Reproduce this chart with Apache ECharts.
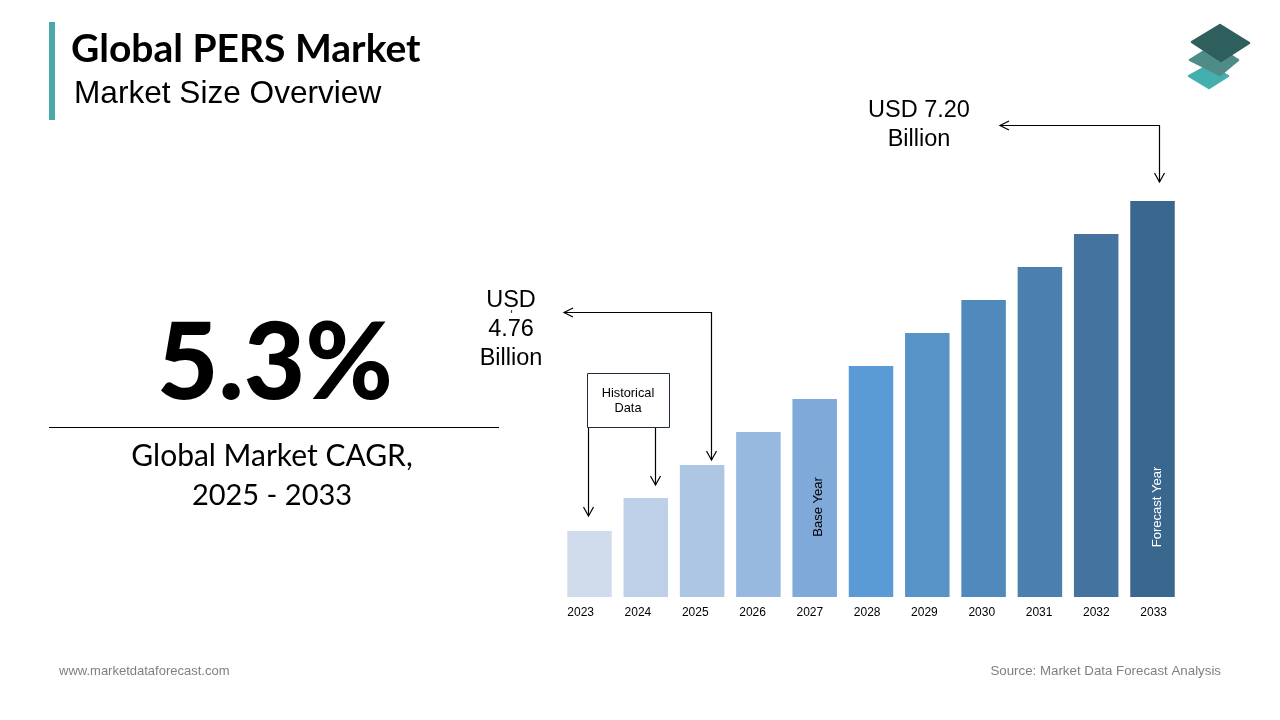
<!DOCTYPE html>
<html lang="en">
<head>
    <meta charset="UTF-8">
    <title>Global PERS Market</title>
    <style>
        html, body { margin: 0; padding: 0; background: #fff; }
    </style>
</head>
<body>
<div id="chart" style="width: 1280px;height: 720px"></div>
<script src="https://cdn.jsdelivr.net/npm/echarts@6/dist/echarts.min.js"></script>
<script>
    const years = ['2023', '2024', '2025', '2026', '2027', '2028', '2029', '2030', '2031', '2032', '2033']
    // bars are schematic in the picture (no value axis), so these are relative heights
    const relativeSize = [1, 1.5, 2, 2.5, 3, 3.5, 4, 4.5, 5, 5.5, 6]
    const barColors = ['#d0dcec', '#bdd0e8', '#adc6e3', '#98b9df', '#7fa9d8', '#5b9bd5', '#5893c8', '#5089bc', '#4b7fae', '#44739f', '#3a678e']

    const sans = '"Liberation Sans"'
    const calibriLike = 'Lato'

    function txt(x, y, text, size, opts) {
        return {
            type: 'text',
            x: x,
            y: y,
            z: 10,
            rotation: (opts && opts.rotation) || 0,
            style: {
                text: text,
                fontFamily: (opts && opts.font) || sans,
                fontSize: size,
                fontWeight: (opts && opts.weight) || 'normal',
                fill: (opts && opts.color) || '#000',
                align: (opts && opts.align) || 'center',
                verticalAlign: 'middle'
            }
        }
    }

    function line(points, color) {
        return {
            type: 'polyline',
            z: 10,
            shape: {points: points},
            style: {stroke: color || '#000', lineWidth: 1.2, fill: null}
        }
    }

    function diamond(points, color) {
        return {
            type: 'polygon',
            shape: {points: points},
            style: {fill: color, stroke: color, lineWidth: 2.5, lineJoin: 'round'}
        }
    }

    const dom = document.getElementById('chart')
    const chart = echarts.init(dom)
    chart.setOption({
        animation: false,
        backgroundColor: '#fff',
        grid: [
            {left: 561.35, top: 201, width: 619.3, height: 396},
            // tick labels in the picture sit on a slightly wider spacing than the bars
            {left: 552, top: 597, width: 630.3, height: 1}
        ],
        xAxis: [
            {
                type: 'category',
                gridIndex: 0,
                data: years,
                axisLine: {show: false},
                axisTick: {show: false},
                axisLabel: {show: false}
            },
            {
                type: 'category',
                gridIndex: 1,
                data: years,
                axisLine: {show: false},
                axisTick: {show: false},
                axisLabel: {
                    interval: 0,
                    margin: 9,
                    color: '#000',
                    fontFamily: sans,
                    fontSize: 12
                }
            }
        ],
        yAxis: [
            {type: 'value', gridIndex: 0, min: 0, max: 6, show: false},
            {type: 'value', gridIndex: 1, show: false}
        ],
        series: [
            {
                type: 'bar',
                xAxisIndex: 0,
                yAxisIndex: 0,
                barWidth: 44.5,
                data: relativeSize.map((v, i) => ({value: v, itemStyle: {color: barColors[i]}}))
            }
        ],
        graphic: {
            elements: [
                // header
                {type: 'rect', shape: {x: 49, y: 22, width: 6, height: 98}, style: {fill: '#4ba8a8'}},
                txt(71, 49, 'Global PERS Market', 39, {font: calibriLike, weight: 'bold', align: 'left'}),
                txt(74, 94, 'Market Size Overview', 31.6, {align: 'left'}),

                // logo
                diamond([[1189, 76], [1209, 65], [1228, 76], [1209, 88]], '#44afaf'),
                diamond([[1190, 60], [1214, 45], [1238, 60], [1220, 75]], '#4f8c88'),
                diamond([[1192, 42], [1220, 25], [1249, 43], [1221, 61]], '#2f5f5c'),

                // CAGR block
                txt(275, 365, '5.3%', 106, {font: calibriLike, weight: 900}),
                line([[49, 427.5], [499, 427.5]]),
                txt(272, 456, 'Global Market CAGR,', 30, {font: calibriLike}),
                txt(272, 496, '2025 - 2033', 29, {font: calibriLike}),

                // USD 4.76 callout
                txt(511, 301, 'USD', 23.5),
                txt(511, 330, '4.76', 23.5),
                txt(511, 359, 'Billion', 23.5),
                line([[511.5, 310], [511.5, 313]], '#444'),
                line([[711.5, 460], [711.5, 312.5], [564, 312.5]]),
                line([[573, 308], [564, 312.5], [573, 317]]),
                line([[706.5, 451], [711.5, 460], [716.5, 451]]),

                // USD 7.20 callout
                txt(919, 111, 'USD 7.20', 23.5),
                txt(919, 140, 'Billion', 23.5),
                line([[1000, 125.5], [1159.5, 125.5], [1159.5, 182]]),
                line([[1009, 121], [1000, 125.5], [1009, 130]]),
                line([[1154.5, 173], [1159.5, 182], [1164.5, 173]]),

                // historical data box
                {
                    type: 'rect',
                    shape: {x: 587.5, y: 373.5, width: 82, height: 54},
                    style: {fill: '#fff', stroke: '#1f2d3d', lineWidth: 1}
                },
                txt(628, 393, 'Historical', 12.8),
                txt(628, 408, 'Data', 12.8),
                line([[588.5, 428], [588.5, 516]]),
                line([[583.5, 507], [588.5, 516], [593.5, 507]]),
                line([[655.5, 428], [655.5, 485]]),
                line([[650.5, 476], [655.5, 485], [660.5, 476]]),

                // labels inside bars
                txt(818, 507, 'Base Year', 13, {rotation: Math.PI / 2}),
                txt(1157, 507, 'Forecast Year', 13, {rotation: Math.PI / 2, color: '#fff'}),

                // footer
                txt(59, 671, 'www.marketdataforecast.com', 13, {align: 'left', color: '#808080'}),
                txt(1221, 671, 'Source: Market Data Forecast Analysis', 13.3, {align: 'right', color: '#808080'})
            ]
        }
    })
    window.addEventListener('resize', () => {
        chart.resize()
    })
</script>
</body>
</html>
